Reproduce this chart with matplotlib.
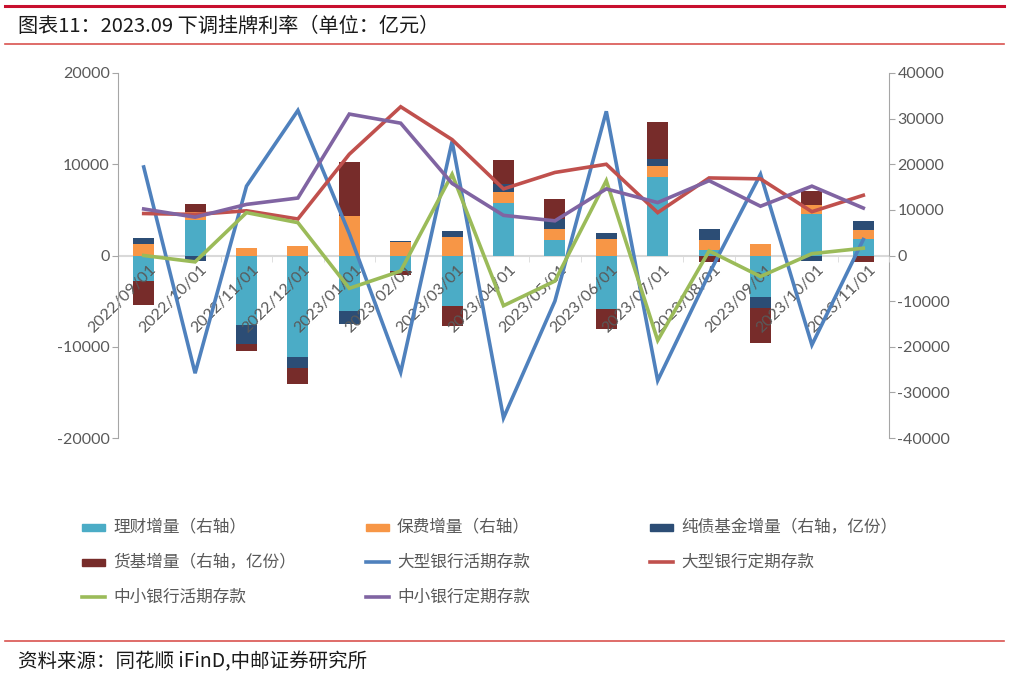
import numpy as np
import matplotlib
matplotlib.use('Agg')
import matplotlib.pyplot as plt
from matplotlib.lines import Line2D
from matplotlib.patches import Rectangle
import matplotlib.transforms as mtransforms

plt.rcParams['font.family'] = ['Noto Sans CJK SC', 'DejaVu Sans']
plt.rcParams['axes.unicode_minus'] = False

# ---- data (亿元) ----
cats = ['2022/09/01', '2022/10/01', '2022/11/01', '2022/12/01', '2023/01/01',
        '2023/02/01', '2023/03/01', '2023/04/01', '2023/05/01', '2023/06/01',
        '2023/07/01', '2023/08/01', '2023/09/01', '2023/10/01', '2023/11/01']

# bars, right axis
licai = [-5600, 7800, -15200, -22300, -12200, -3300, -11000, 11600, 3300, -11800,
         17300, 1300, -9100, 9200, 3700]
baofei = [2500, 1700, 1600, 2000, 8700, 2900, 4000, 2400, 2600, 3700,
          2400, 2200, 2600, 1800, 1800]
chunzhai = [1300, -1100, -4200, -2400, -2800, 200, 1300, 1700, 2200, 1300,
            1500, 2200, -2400, -1200, 2000]
huoji = [-5300, 1750, -1500, -3400, 11800, -1000, -4500, 5300, 4200, -4200,
         8100, -1500, -7600, 3100, -1500]

# lines, left axis
big_demand = [9700, -12900, 7600, 15900, 2400, -12800, 12500, -17800, -5000, 15800,
              -13700, -2000, 8900, -9800, 1750]
big_time = [4600, 4500, 4900, 4000, 11100, 16300, 12700, 7300, 9100, 10000,
            4700, 8500, 8400, 4800, 6600]
small_demand = [0, -700, 4700, 3600, -3600, -1700, 8900, -5500, -2800, 8200,
                -9300, 500, -2300, 200, 800]
small_time = [5100, 4200, 5600, 6300, 15500, 14500, 7900, 4400, 3800, 7300,
              5800, 8200, 5400, 7600, 5200]

bar_series = [('理财增量（右轴）', licai, '#4BACC6'),
              ('保费增量（右轴）', baofei, '#F79646'),
              ('纯债基金增量（右轴，亿份）', chunzhai, '#2C4D75'),
              ('货基增量（右轴，亿份）', huoji, '#772C2A')]
line_series = [('大型银行活期存款', big_demand, '#4F81BD'),
               ('大型银行定期存款', big_time, '#C0504D'),
               ('中小银行活期存款', small_demand, '#9BBB59'),
               ('中小银行定期存款', small_time, '#8064A2')]

W, H = 1009, 676
fig = plt.figure(figsize=(W / 100, H / 100), dpi=100)
ax = fig.add_axes([118 / W, 1 - 438 / H, (889 - 118) / W, (438 - 73) / H])
ax2 = ax.twinx()
ax.set_zorder(ax2.get_zorder() + 1)
ax.patch.set_visible(False)

x = np.arange(len(cats))

# stacked bars, positives and negatives stacked separately
pos = np.zeros(len(cats))
neg = np.zeros(len(cats))
ax2.axhline(0, color='#D9D9D9', lw=1.5, zorder=0)
for name, vals, col in bar_series:
    v = np.array(vals, dtype=float)
    bottom = np.where(v >= 0, pos, neg)
    ax2.bar(x, v, 0.41, bottom=bottom, color=col, zorder=2)
    pos = pos + np.where(v >= 0, v, 0)
    neg = neg + np.where(v < 0, v, 0)

for name, vals, col in line_series:
    ax.plot(x, vals, color=col, lw=2.6, solid_joinstyle='miter', zorder=3)

ax.set_xlim(-0.5, len(cats) - 0.5)
ax.set_ylim(-20000, 20000)
ax2.set_ylim(-40000, 40000)

ax.spines['bottom'].set_position(('data', 0))
ax.spines['bottom'].set_color('none')
ax.spines['top'].set_visible(False)
ax.spines['right'].set_visible(False)
ax.spines['left'].set_color('#A6A6A6')
for s in ['top', 'left', 'bottom']:
    ax2.spines[s].set_visible(False)
ax2.spines['right'].set_color('#A6A6A6')

ax.set_xticks(x)
ax.set_xticks(np.arange(-0.5, len(cats), 1), minor=True)
ax.set_yticks(np.arange(-20000, 20001, 10000))
ax2.set_yticks(np.arange(-40000, 40001, 10000))

# tick_params first: it resets label rotation and transforms
ax.tick_params(axis='x', which='major', length=0, pad=5, labelcolor='#595959')
ax.tick_params(axis='x', which='minor', length=4, color='#D9D9D9', direction='out')
ax.tick_params(axis='y', length=4, color='#A6A6A6', labelcolor='#595959', pad=2)
ax2.tick_params(axis='y', length=4, color='#A6A6A6', labelcolor='#595959', pad=2)

tick_font = dict(family='Lato', size=11.5)
ax.set_yticklabels([str(v) for v in range(-20000, 20001, 10000)], fontdict=tick_font)
ax2.set_yticklabels([str(v) for v in range(-40000, 40001, 10000)], fontdict=tick_font)
ax.set_xticklabels(cats, rotation=45, ha='right', rotation_mode='anchor', fontdict=tick_font)
offset = mtransforms.ScaledTranslation(5 / 100, 0, fig.dpi_scale_trans)
for lab in ax.get_xticklabels():
    lab.set_transform(lab.get_transform() + offset)

# ---- legend, drawn by hand in rows ----
items = [(n, c, 'bar') for n, v, c in bar_series] + [(n, c, 'line') for n, v, c in line_series]
col_x = [82, 366, 650]
row_y = [527, 562, 597]
for i, (name, col, kind) in enumerate(items):
    px = col_x[i % 3]
    py = row_y[i // 3]
    if kind == 'bar':
        fig.add_artist(Rectangle((px / W, 1 - (py + 3.5) / H), 23 / W, 7 / H,
                                 transform=fig.transFigure, color=col))
    else:
        fig.add_artist(Line2D([px / W, (px + 23) / W], [1 - py / H] * 2,
                              transform=fig.transFigure, color=col, lw=2.6))
    fig.text((px + 31) / W, 1 - py / H, name, fontsize=12, color='#595959', va='center')

# ---- header / footer ----
fig.add_artist(Line2D([5 / W, 1004 / W], [1 - 6 / H] * 2, color='#C8102E', lw=2.2))
fig.add_artist(Line2D([5 / W, 1004 / W], [1 - 44 / H] * 2, color='#D9534F', lw=1.2))
fig.add_artist(Line2D([5 / W, 1004 / W], [1 - 641 / H] * 2, color='#D9534F', lw=1.2))
fig.text(18 / W, 1 - 26 / H, '图表11：2023.09 下调挂牌利率（单位：亿元）',
         fontsize=14.5, color='#1a1a1a', va='center')
fig.text(18 / W, 1 - 662 / H, '资料来源：同花顺 iFinD,中邮证券研究所',
         fontsize=14, color='#1a1a1a', va='center')

fig.savefig('out.png', dpi=100)
